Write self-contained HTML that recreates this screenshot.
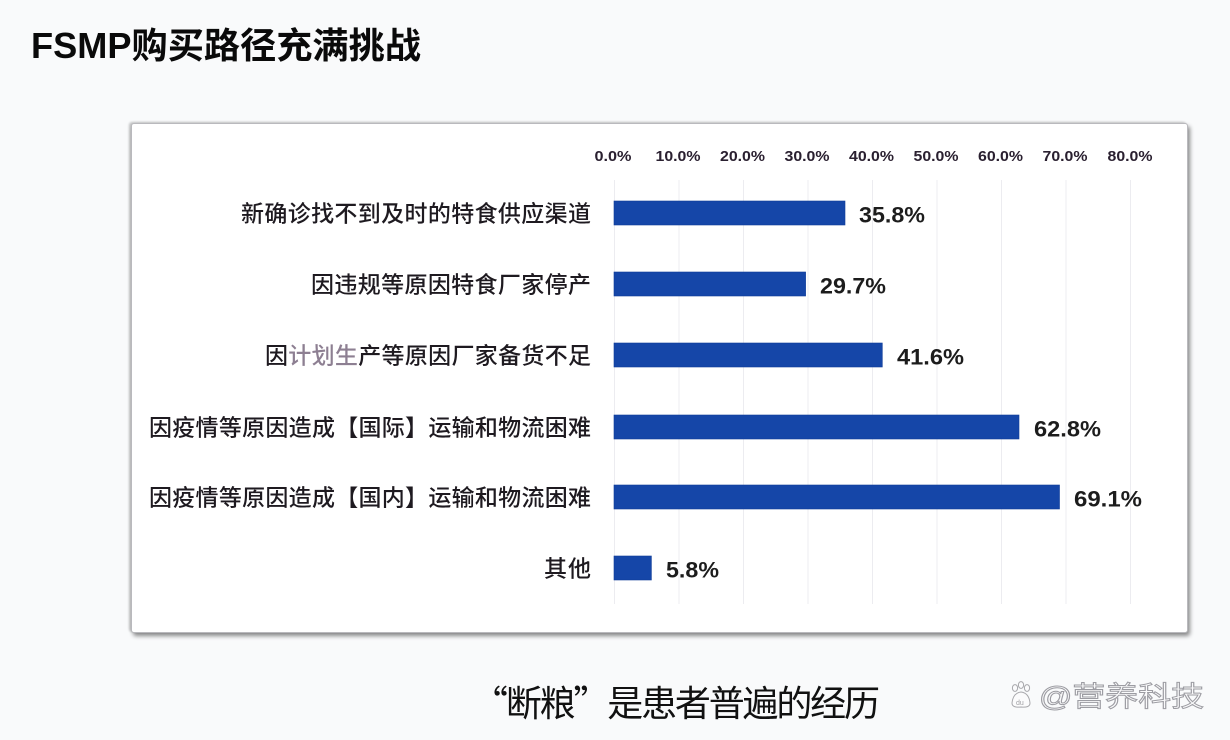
<!DOCTYPE html>
<html>
<head>
<meta charset="utf-8">
<style>
  html,body{margin:0;padding:0;}
  body{width:1230px;height:740px;background:#f9fafb;position:relative;overflow:hidden;}
  .box{position:absolute;left:131px;top:123px;width:1055px;height:508px;background:#fff;
       border:1px solid #b9b9bd;border-radius:3px;
       box-shadow:2px 3px 4px rgba(0,0,0,0.45), -2px -1px 2px rgba(0,0,0,0.22);}
  svg{position:absolute;left:0;top:0;}
</style>
</head>
<body>
<div class="box"></div>
<svg width="1230" height="740" viewBox="0 0 1230 740" xmlns="http://www.w3.org/2000/svg">
  <!-- Title -->
  <text x="31" y="58" font-family="'Liberation Sans','Noto Sans CJK SC',sans-serif" font-weight="bold" font-size="36" fill="#0a0a0a" textLength="390" lengthAdjust="spacingAndGlyphs">FSMP购买路径充满挑战</text>

  <!-- Gridlines -->
  <g stroke="#ececf0" stroke-width="1">
    <line x1="614.5" y1="180" x2="614.5" y2="604"/>
    <line x1="679" y1="180" x2="679" y2="604"/>
    <line x1="743.5" y1="180" x2="743.5" y2="604"/>
    <line x1="808" y1="180" x2="808" y2="604"/>
    <line x1="872.5" y1="180" x2="872.5" y2="604"/>
    <line x1="937" y1="180" x2="937" y2="604"/>
    <line x1="1001.5" y1="180" x2="1001.5" y2="604"/>
    <line x1="1066" y1="180" x2="1066" y2="604"/>
    <line x1="1130.5" y1="180" x2="1130.5" y2="604"/>
  </g>

  <!-- Tick labels -->
  <g font-family="'Liberation Sans',sans-serif" font-weight="bold" font-size="15" fill="#2a2030" text-anchor="middle">
    <text x="613" y="161" textLength="37" lengthAdjust="spacingAndGlyphs">0.0%</text>
    <text x="678" y="161" textLength="45" lengthAdjust="spacingAndGlyphs">10.0%</text>
    <text x="742.5" y="161" textLength="45" lengthAdjust="spacingAndGlyphs">20.0%</text>
    <text x="807" y="161" textLength="45" lengthAdjust="spacingAndGlyphs">30.0%</text>
    <text x="871.5" y="161" textLength="45" lengthAdjust="spacingAndGlyphs">40.0%</text>
    <text x="936" y="161" textLength="45" lengthAdjust="spacingAndGlyphs">50.0%</text>
    <text x="1000.5" y="161" textLength="45" lengthAdjust="spacingAndGlyphs">60.0%</text>
    <text x="1065" y="161" textLength="45" lengthAdjust="spacingAndGlyphs">70.0%</text>
    <text x="1130" y="161" textLength="45" lengthAdjust="spacingAndGlyphs">80.0%</text>
  </g>

  <!-- Bars -->
  <g fill="#1546a8" stroke="#0f3c98" stroke-width="0.6">
    <rect x="614" y="201" width="231" height="24"/>
    <rect x="614" y="272" width="191.6" height="24"/>
    <rect x="614" y="343" width="268.3" height="24"/>
    <rect x="614" y="415" width="405" height="24"/>
    <rect x="614" y="485" width="445.5" height="24"/>
    <rect x="614" y="556" width="37.4" height="24"/>
  </g>

  <!-- Category labels -->
  <g font-family="'Liberation Sans','Noto Sans CJK SC',sans-serif" font-size="23" font-weight="500" fill="#1e1a20" text-anchor="end">
    <text x="591" y="221.5" textLength="350" lengthAdjust="spacing">新确诊找不到及时的特食供应渠道</text>
    <text x="591" y="292.5" textLength="280" lengthAdjust="spacing">因违规等原因特食厂家停产</text>
    <text x="591" y="363.5" textLength="326" lengthAdjust="spacing">因<tspan fill="#8d7f92">计划生</tspan>产等原因厂家备货不足</text>
    <text x="591" y="435.5" textLength="442" lengthAdjust="spacing">因疫情等原因造成【国际】运输和物流困难</text>
    <text x="591" y="505.5" textLength="442" lengthAdjust="spacing">因疫情等原因造成【国内】运输和物流困难</text>
    <text x="591" y="576.5" textLength="47" lengthAdjust="spacing">其他</text>
  </g>

  <!-- Value labels -->
  <g font-family="'Liberation Sans',sans-serif" font-weight="bold" font-size="22" fill="#1c1c1c">
    <text x="859" y="222.5" textLength="66" lengthAdjust="spacingAndGlyphs">35.8%</text>
    <text x="820" y="293.5" textLength="66" lengthAdjust="spacingAndGlyphs">29.7%</text>
    <text x="897" y="364.5" textLength="67" lengthAdjust="spacingAndGlyphs">41.6%</text>
    <text x="1034" y="436.5" textLength="67" lengthAdjust="spacingAndGlyphs">62.8%</text>
    <text x="1074" y="506.5" textLength="68" lengthAdjust="spacingAndGlyphs">69.1%</text>
    <text x="666" y="577.5" textLength="53" lengthAdjust="spacingAndGlyphs">5.8%</text>
  </g>

  <!-- Caption -->
  <text x="472" y="716" font-family="'Noto Sans CJK SC',sans-serif" font-size="36" font-weight="normal" fill="#111" textLength="408" lengthAdjust="spacing">“断粮”是患者普遍的经历</text>

  <!-- Watermark -->
  <g stroke="#a8a8ac" stroke-width="1" fill="#fbfbfc">
    <ellipse cx="1015" cy="688" rx="2.6" ry="3.4"/>
    <ellipse cx="1021" cy="685" rx="2.6" ry="3.4"/>
    <ellipse cx="1027" cy="688" rx="2.6" ry="3.4"/>
    <path d="M1012 703 Q1013 693 1021 692 Q1029 693 1030 703 Q1030 708 1021 707 Q1012 708 1012 703 Z"/>
  </g>
  <text x="1016" y="705" font-family="'Liberation Sans',sans-serif" font-size="7" fill="#a0a0a4">du</text>
  <text x="1039" y="706" font-family="'Liberation Sans','Noto Sans CJK SC',sans-serif" font-size="28" fill="#fafafb" stroke="#9c9ca2" stroke-width="1" textLength="165" lengthAdjust="spacingAndGlyphs">@营养科技</text>
</svg>
</body>
</html>
